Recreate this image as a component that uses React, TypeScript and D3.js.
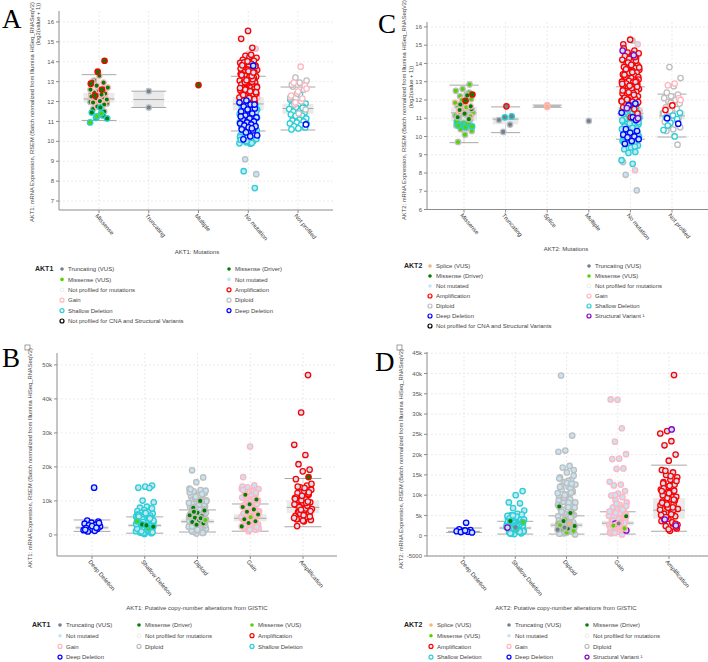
import * as d3 from 'd3';

// colours used by the cBioPortal-style plots
const MUT_FILL: Record<string, string> = {
  drv: '#008000', vus: '#53d400', trunc: '#708090', splice: '#f0b87b',
  notmut: '#c4e5f5', notprof: '#ffffff',
};
const CNA_STROKE: Record<string, string> = {
  amp: '#ff0000', gain: '#ffb6c1', dip: '#bebebe', shal: '#2aced4',
  deep: '#0000ff', sv: '#8b00c9', npcna: '#000000',
};
const LEGEND_LABEL: Record<string, string> = {
  splice: 'Splice (VUS)', trunc: 'Truncating (VUS)', drv: 'Missense (Driver)',
  vus: 'Missense (VUS)', notmut: 'Not mutated', notprof: 'Not profiled for mutations',
  amp: 'Amplification', gain: 'Gain', dip: 'Diploid', shal: 'Shallow Deletion',
  deep: 'Deep Deletion', sv: 'Structural Variant \u00b9',
  npcna: 'Not profiled for CNA and Structural Variants',
};

// ---------- A: AKT1 by mutation (log2) ----------
const A_CATS = ['Missense', 'Truncating', 'Multiple', 'No mutation', 'Not profiled'];
const A_TICKS = [7, 8, 9, 10, 11, 12, 13, 14, 15, 16];
const A_BOXES = [[11.05, 11.95, 12.13, 12.43, 13.35], [11.7, 11.7, 12.1, 12.52, 12.52], null,
  [10.52, 11.55, 11.88, 12.22, 13.27], [10.57, 11.38, 11.65, 11.88, 12.73]];
const A_MS_DRV_AMP = [14.05, 13.5, 12.9, 12.6, 12.3];
const A_MS_DRV_GAIN = [13.3, 13.0, 12.95, 12.8, 12.7, 12.55, 12.45, 12.4, 12.32, 12.25, 12.2, 12.15, 12.1, 12.02, 11.95, 11.85, 11.75, 12.6, 12.35];
const A_MS_DRV_DIP = [13.05, 12.65, 12.5, 12.38, 12.22, 12.05, 11.9, 11.8, 11.62, 11.5, 12.18, 11.98];
const A_MS_DRV_SHAL = [11.45, 11.3, 11.18, 11.15, 11.7];
const A_MS_VUS_SHAL = [11.25, 10.95, 11.4];
const A_TRUNC = [12.52, 11.7];
const A_MULTI = [12.83];
const A_NM_AMP = [15.55, 15.15, 14.7, 14.3, 14.2, 14.15, 14.1, 14.05, 14.0, 13.95, 13.9, 13.85, 13.8, 13.75, 13.72, 13.68, 13.62, 13.58, 13.55, 13.5, 13.45, 13.42, 13.38, 13.35, 13.3, 13.25, 13.22, 13.18, 13.15, 13.1, 13.05, 13.02, 12.98, 12.95, 12.9, 12.85, 12.82, 12.78, 12.75, 12.7, 12.65, 12.62, 12.58, 12.55, 12.5, 12.45, 12.42, 12.38, 12.35, 12.3, 12.25, 12.2, 12.15, 12.05, 11.95, 13.6, 13.4, 13.0, 12.6, 12.4, 14.25, 13.85, 13.2, 12.88, 12.68,
  14.35, 13.97, 13.77, 13.52, 13.33, 13.12, 12.93, 12.72, 12.52, 12.33, 12.12, 14.02, 13.66, 13.28, 12.97, 12.47, 12.18, 13.82, 13.46, 13.07];
const A_NM_GAIN = [14.65, 14.4, 13.9, 13.3, 12.8, 12.2, 11.8];
const A_NM_DIP = [14.1, 13.6, 13.0, 12.4, 11.9, 11.4, 9.1, 8.35, 10.5];
const A_NM_SHAL = [12.3, 12.2, 12.1, 12.0, 11.95, 11.9, 11.85, 11.8, 11.75, 11.7, 11.65, 11.6, 11.55, 11.5, 11.45, 11.4, 11.35, 11.3, 11.25, 11.2, 11.15, 11.1, 11.05, 11.0, 10.95, 10.9, 10.85, 10.8, 10.75, 10.7, 10.65, 10.6, 10.55, 10.5, 10.45, 10.4, 10.35, 10.3, 10.25, 10.2, 10.15, 10.1, 10.05, 10.0, 9.95, 9.9, 9.88, 8.5, 7.65, 11.72, 11.28, 10.88, 10.42, 10.12, 9.96, 11.58, 11.02, 10.68, 10.22, 12.25, 12.05, 11.62,
  12.15, 11.92, 11.68, 11.42, 11.18, 10.92, 10.72, 10.48, 10.28, 10.08, 9.92, 11.82, 11.48, 11.12, 10.78, 10.38, 10.02, 11.38, 10.58];
const A_NM_DEEP = [13.8, 12.05, 11.95, 11.85, 11.75, 11.65, 11.55, 11.5, 11.4, 11.3, 11.2, 11.15, 11.1, 11.0, 10.95, 10.9, 10.85, 10.8, 10.75, 10.7, 10.6, 10.55, 10.45, 10.3, 10.25, 10.1, 11.85, 11.6, 11.25, 10.65];
const A_NP_SHAL = [12.1, 12.0, 11.95, 11.9, 11.85, 11.8, 11.75, 11.7, 11.62, 11.55, 11.5, 11.45, 11.4, 11.35, 11.3, 11.22, 11.15, 11.1, 11.05, 11.0, 10.95, 10.9, 10.82, 10.75, 10.7, 10.65, 10.6, 11.68, 11.28, 10.88, 12.35];
const A_NP_DIP = [13.2, 13.05, 12.95, 12.75, 12.6, 12.4, 12.2, 12.0, 11.85, 11.6, 11.4, 12.85];
const A_NP_GAIN = [13.75, 12.95, 12.8, 12.5, 12.3, 12.15, 11.95, 12.65];
const A_NP_DEEP = [10.85];

// ---------- C: AKT2 by mutation (log2) ----------
const C_CATS = ['Missense', 'Truncating', 'Splice', 'Multiple', 'No mutation', 'Not profiled'];
const C_TICKS = [6, 7, 8, 9, 10, 11, 12, 13, 14, 15, 16];
const C_BOXES = [[9.66, 10.85, 11.29, 11.62, 12.81], [10.21, 10.67, 10.95, 11.07, 11.62], [11.6, 11.6, 11.66, 11.72, 11.72], null,
  [9.85, 10.95, 11.26, 11.6, 12.72], [9.97, 10.95, 11.13, 11.4, 12.32]];
const C_MS_VUS_DIP = [12.85, 12.6, 12.5, 12.3, 12.2, 12.05, 11.9, 11.7, 11.55, 11.45, 11.3, 11.2, 11.05, 10.9, 10.75, 10.6, 10.45, 10.4, 10.3, 10.1, 9.7, 12.4, 11.8, 11.15, 10.55];
const C_MS_VUS_SHAL = [10.8, 10.7, 10.65, 10.55, 10.5, 10.6];
const C_MS_VUS_GAIN = [12.0, 11.85, 11.6, 11.35, 11.1];
const C_MS_DRV_DIP = [12.25, 11.75, 11.5, 11.25, 11.05, 10.95];
const C_MS_DRV_AMP = [12.3, 11.95];
const C_MS_DRV_GAIN = [11.45, 11.65];
const C_TR_AMP = [11.65];
const C_TR_SHAL = [11.1, 11.05];
const C_TR_DIP = [10.9, 10.65, 10.25];
const C_SPLICE = [11.72, 11.62];
const C_MULTI = [10.85];
const C_NM_AMP = [15.3, 15.05, 14.7, 14.6, 14.55, 14.45, 14.4, 14.3, 14.25, 14.2, 14.1, 14.0, 13.9, 13.85, 13.8, 13.75, 13.7, 13.65, 13.6, 13.55, 13.5, 13.45, 13.4, 13.35, 13.3, 13.25, 13.2, 13.15, 13.1, 13.05, 13.0, 12.95, 12.9, 12.85, 12.8, 12.75, 12.7, 12.65, 12.6, 12.55, 12.5, 12.45, 12.4, 12.35, 12.3, 12.25, 12.2, 12.15, 12.1, 12.05, 12.0, 11.95, 11.9, 11.85, 11.8, 11.7, 11.6, 11.5, 13.62, 13.12, 12.62, 12.12, 14.15, 13.48, 12.88, 12.38, 11.78, 11.25, 11.05,
  14.82, 14.35, 14.05, 13.78, 13.52, 13.28, 13.02, 12.78, 12.52, 12.28, 12.02, 11.88, 13.92, 13.38, 12.98, 12.42, 11.92, 14.5, 13.68, 12.72];
const C_NM_GAIN = [15.05, 14.6, 13.9, 8.15, 12.5, 11.4];
const C_NM_DIP = [15.25, 7.9, 7.05, 14.35, 8.6];
const C_NM_SHAL = [11.7, 11.6, 11.5, 11.45, 11.4, 11.35, 11.3, 11.25, 11.2, 11.15, 11.1, 11.05, 11.0, 10.95, 10.9, 10.85, 10.8, 10.75, 10.7, 10.65, 10.6, 10.55, 10.5, 10.45, 10.4, 10.35, 10.3, 10.25, 10.2, 10.15, 10.1, 10.05, 10.0, 9.95, 9.9, 9.85, 9.8, 9.75, 9.7, 9.6, 9.5, 9.4, 9.3, 9.15, 9.1, 8.7, 8.5, 11.52, 11.02, 10.52, 10.02, 9.62, 11.28, 10.78, 10.28,
  11.62, 11.38, 11.12, 10.88, 10.62, 10.38, 10.12, 9.88, 9.68, 9.45, 11.48, 10.98, 10.48, 9.98, 11.22, 10.72];
const C_NM_DEEP = [11.8, 11.7, 11.3, 11.05, 10.4, 10.3, 10.2, 10.1, 10.0, 9.95, 9.85, 9.75, 9.6, 10.9];
const C_NM_SV = [14.7, 14.45, 11.55, 11.0];
const C_NP_DIP = [13.8, 13.2, 12.75, 12.4, 12.3, 12.2, 12.1, 12.0, 11.9, 11.8, 11.7, 11.6, 11.5, 11.4, 11.3, 11.2, 11.1, 11.0, 10.9, 10.8, 10.7, 10.6, 10.5, 10.4, 10.3, 9.55, 11.85, 11.25, 10.65];
const C_NP_GAIN = [12.9, 12.8, 12.1, 11.7, 11.5, 11.2, 10.85, 12.0];
const C_NP_SHAL = [11.3, 11.15, 11.05, 10.95, 10.75, 10.35, 10.0, 10.6];
const C_NP_DEEP = [11.0, 10.7];
const C_NP_AMP = [11.7, 11.45];

// ---------- B: AKT1 by GISTIC call (thousands) ----------
const CNA_CATS = ['Deep Deletion', 'Shallow Deletion', 'Diploid', 'Gain', 'Amplification'];
const B_TICKS = [0, 10, 20, 30, 40, 50];
const B_BOXES = [[1.05, 1.6, 2.1, 2.7, 4.4], [0.5, 2.3, 2.8, 3.3, 5.3], [0.85, 3.4, 3.9, 4.6, 7.35],
  [1.1, 4.0, 4.9, 6.1, 9.1], [2.4, 6.4, 8.1, 10.2, 16.6]];
const B_DEEP = [13.9, 4.2, 3.9, 3.6, 3.3, 3.0, 2.8, 2.5, 2.2, 2.0, 1.8, 1.6, 1.4, 1.2, 1.0, 3.5, 2.6, 1.5, 2.1];
const B_SHAL = [14.5, 14.2, 13.9, 13.8, 10.1, 9.6, 8.3, 8.0, 7.6, 7.3, 7.0, 6.8, 6.5, 6.3, 6.1, 5.9, 5.7, 5.5, 5.3, 5.1, 4.9, 4.7, 4.5, 4.3, 4.1, 3.9, 3.7, 3.5, 3.3, 3.1, 2.9, 2.7, 2.5, 2.3, 2.1, 1.9, 1.7, 1.5, 1.3, 1.1, 0.9, 0.7, 0.5, 0.3, 6.0, 5.2, 4.4, 3.6, 2.8, 2.0, 1.2, 0.6, 5.6, 4.0, 2.4,
  7.8, 6.6, 5.8, 5.0, 4.6, 4.2, 3.4, 3.0, 2.6, 2.2, 1.8, 1.4, 1.0, 0.8, 6.4, 5.4, 4.8, 3.8, 3.2, 1.6];
const B_SHAL_VUS = [4.0, 2.0];
const B_SHAL_DRV = [3.1, 2.4, 2.8];
const B_DIP = [19.0, 16.9, 15.5, 13.6, 13.2, 12.8, 12.3, 11.8, 11.4, 11.0, 10.6, 10.2, 9.8, 9.4, 9.0, 8.6, 8.2, 7.8, 7.4, 7.0, 6.6, 6.2, 5.8, 5.4, 5.0, 4.6, 4.2, 3.8, 3.4, 3.0, 2.6, 2.2, 1.8, 1.4, 1.0, 0.7, 0.4, 12.5, 11.1, 9.6, 8.4, 7.2, 6.0, 4.8, 3.6, 2.4, 1.2, 10.4, 8.8, 6.8, 5.2, 3.2, 1.6, 13.0, 11.6, 9.2, 7.6, 5.6, 4.0, 2.0, 0.9, 2.8, 4.4, 6.4,
  12.0, 10.8, 9.9, 9.0, 8.0, 7.0, 6.1, 5.3, 4.5, 3.7, 2.9, 2.1, 1.3, 0.6, 11.2, 9.4, 7.4, 5.5, 3.5, 1.5, 13.4, 10.0, 8.2, 6.5, 4.7, 2.5];
const B_DIP_DRV = [10.0, 8.0, 7.2, 6.5, 6.0, 5.5, 5.0, 4.6, 4.2, 3.8, 3.4, 3.0, 5.8, 4.9, 6.8];
const B_DIP_VUS = [4.4];
const B_GAIN = [26.0, 17.0, 14.6, 14.0, 13.5, 13.0, 12.5, 12.0, 11.5, 11.0, 10.5, 10.0, 9.5, 9.0, 8.5, 8.0, 7.5, 7.0, 6.5, 6.0, 5.5, 5.0, 4.5, 4.0, 3.5, 3.0, 2.5, 2.0, 1.5, 1.1, 13.6, 12.2, 10.8, 9.2, 7.8, 6.2, 4.8, 3.2, 1.8, 11.8, 8.8, 5.8, 2.8,
  14.2, 12.8, 11.3, 10.2, 9.8, 8.7, 7.2, 6.7, 5.2, 4.3, 3.7, 2.3, 1.6, 13.2, 10.6, 8.2, 6.4, 4.2, 2.6, 12.4];
const B_GAIN_DRV = [11.8, 10.4, 9.0, 8.2, 7.5, 6.8, 6.0, 5.5, 4.6, 4.0, 3.5, 2.5];
const B_GAIN_VUS = [5.2];
const B_AMP = [47.0, 36.0, 26.5, 23.5, 20.8, 19.2, 18.7, 16.4, 14.5, 14.0, 13.3, 12.8, 12.3, 11.8, 11.3, 10.8, 10.4, 10.0, 9.6, 9.2, 8.8, 8.4, 8.0, 7.6, 7.2, 6.8, 6.4, 6.0, 5.6, 5.2, 4.8, 4.4, 4.0, 2.6, 12.0, 10.2, 9.0, 7.8, 6.6, 5.4, 4.2, 11.0, 8.6, 6.2, 15.0, 13.8,
  14.2, 12.5, 11.5, 10.6, 9.4, 8.2, 7.0, 5.8, 4.6, 9.8, 7.4, 5.0];
const B_AMP_DRV = [17.0];

// ---------- D: AKT2 by GISTIC call (thousands) ----------
const D_TICKS = [-5, 0, 5, 10, 15, 20, 25, 30, 35, 40, 45];
const D_BOXES = [[0.8, 0.9, 1.05, 1.3, 1.9], [0.4, 1.5, 1.9, 2.3, 3.55], [0.4, 2.0, 2.6, 3.2, 4.9],
  [0.4, 2.5, 3.1, 3.7, 5.9], [1.1, 4.2, 6.3, 9.3, 17.4]];
const D_DEEP = [3.2, 1.6, 1.4, 1.2, 1.1, 1.0, 0.9, 0.8, 1.3];
const D_SHAL = [11.0, 10.0, 8.2, 8.0, 6.8, 6.2, 5.4, 5.0, 4.8, 4.6, 4.4, 4.2, 4.0, 3.8, 3.6, 3.4, 3.2, 3.0, 2.8, 2.6, 2.4, 2.2, 2.0, 1.8, 1.6, 1.4, 1.2, 1.0, 0.8, 0.6, 0.4, 4.9, 4.1, 3.3, 2.5, 1.7, 0.9, 3.7, 2.9, 2.1, 1.3, 0.5, 5.2, 4.5, 3.5, 2.7, 1.9, 1.1,
  4.7, 4.3, 3.9, 3.1, 2.3, 1.5, 0.7, 3.4, 2.6, 1.8, 1.0, 5.0, 4.0, 2.4, 0.6];
const D_SHAL_VUS = [3.3, 1.6];
const D_SHAL_DRV = [3.6];
const D_SHAL_SV = [2.0];
const D_SHAL_TRUNC = [2.1];
const D_DIP = [39.5, 24.7, 21.0, 20.7, 17.2, 16.8, 16.2, 15.6, 14.4, 13.8, 13.2, 12.6, 12.0, 11.4, 10.8, 10.2, 9.6, 9.0, 8.4, 7.8, 7.2, 6.6, 6.0, 5.4, 4.8, 4.2, 3.6, 3.0, 2.4, 1.8, 1.2, 0.6, 0.3, 13.5, 12.3, 11.1, 9.9, 8.7, 7.5, 6.3, 5.1, 3.9, 2.7, 1.5, 0.9, 10.5, 8.1, 5.7, 3.3, 2.1, 14.1, 11.7, 9.3, 6.9, 4.5, 2.2, 1.0, 4.0, 2.6, 1.6, 3.2,
  14.8, 13.0, 12.0, 10.6, 9.4, 8.2, 7.0, 5.9, 5.0, 4.3, 3.7, 3.1, 2.5, 1.9, 1.3, 0.7, 12.8, 10.0, 7.6, 5.3, 3.5, 2.3, 1.4, 0.5, 4.6, 2.8];
const D_DIP_VUS = [5.8, 4.0, 3.0, 2.2, 1.6, 1.2, 0.8, 2.6];
const D_DIP_DRV = [7.2, 5.6, 3.6, 2.4, 1.8];
const D_DIP_TRUNC = [2.0, 1.5];
const D_DIP_SPLICE = [2.9];
const D_GAIN = [33.5, 33.6, 26.5, 23.2, 20.1, 19.0, 18.9, 16.6, 16.5, 13.3, 12.6, 12.4, 11.0, 10.4, 9.9, 9.5, 8.8, 8.2, 7.6, 7.0, 6.6, 6.2, 5.8, 5.4, 5.0, 4.6, 4.2, 3.8, 3.4, 3.0, 2.6, 2.2, 1.8, 1.4, 1.0, 0.6, 0.3, 10.0, 7.3, 5.6, 4.4, 3.2, 2.0, 0.8, 6.8, 4.8, 3.6, 2.4, 1.2,
  6.4, 5.6, 4.9, 4.3, 3.7, 3.1, 2.5, 1.9, 1.3, 0.7, 5.2, 4.0, 2.8, 1.6, 7.9, 6.0, 3.3, 2.1];
const D_GAIN_SV = [3.0, 1.3];
const D_GAIN_DRV = [4.8, 3.2];
const D_GAIN_VUS = [2.5, 1.8];
const D_GAIN_TRUNC = [3.0];
const D_AMP = [39.6, 25.8, 25.2, 23.3, 22.3, 20.0, 18.5, 16.2, 15.6, 15.0, 14.4, 13.8, 13.2, 12.6, 12.0, 11.4, 10.8, 10.2, 9.6, 9.0, 8.4, 7.8, 7.2, 6.6, 6.0, 5.4, 4.8, 4.2, 3.6, 3.0, 2.4, 1.8, 1.2, 12.9, 11.1, 9.3, 7.5, 5.7, 3.9, 2.1, 10.5, 8.1, 6.3, 4.5, 2.7, 14.7, 11.7, 8.7, 6.9, 5.1, 3.3,
  16.0, 13.5, 12.3, 10.0, 8.9, 7.7, 6.4, 5.3, 4.1, 2.9, 1.6, 11.0, 7.0, 4.6];
const D_AMP_SV = [26.2, 4.0, 2.5];

type Group = [number, string, string, number[]];

const A_GROUPS: Group[] = [
  [3, 'notmut', 'dip', A_NM_DIP], [3, 'notmut', 'gain', A_NM_GAIN], [3, 'notmut', 'shal', A_NM_SHAL],
  [3, 'notmut', 'amp', A_NM_AMP], [3, 'notmut', 'deep', A_NM_DEEP],
  [4, 'notprof', 'shal', A_NP_SHAL], [4, 'notprof', 'dip', A_NP_DIP], [4, 'notprof', 'gain', A_NP_GAIN], [4, 'notprof', 'deep', A_NP_DEEP],
  [0, 'drv', 'dip', A_MS_DRV_DIP], [0, 'drv', 'gain', A_MS_DRV_GAIN], [0, 'drv', 'amp', A_MS_DRV_AMP],
  [0, 'drv', 'shal', A_MS_DRV_SHAL], [0, 'vus', 'shal', A_MS_VUS_SHAL],
  [1, 'trunc', 'dip', A_TRUNC], [2, 'drv', 'amp', A_MULTI],
];
const C_GROUPS: Group[] = [
  [4, 'notmut', 'dip', C_NM_DIP], [4, 'notmut', 'gain', C_NM_GAIN], [4, 'notmut', 'shal', C_NM_SHAL],
  [4, 'notmut', 'amp', C_NM_AMP], [4, 'notmut', 'deep', C_NM_DEEP], [4, 'notmut', 'sv', C_NM_SV],
  [5, 'notprof', 'dip', C_NP_DIP], [5, 'notprof', 'gain', C_NP_GAIN], [5, 'notprof', 'shal', C_NP_SHAL],
  [5, 'notprof', 'deep', C_NP_DEEP], [5, 'notprof', 'amp', C_NP_AMP],
  [0, 'vus', 'dip', C_MS_VUS_DIP], [0, 'vus', 'shal', C_MS_VUS_SHAL], [0, 'vus', 'gain', C_MS_VUS_GAIN],
  [0, 'drv', 'dip', C_MS_DRV_DIP], [0, 'drv', 'amp', C_MS_DRV_AMP], [0, 'drv', 'gain', C_MS_DRV_GAIN],
  [1, 'trunc', 'amp', C_TR_AMP], [1, 'trunc', 'shal', C_TR_SHAL], [1, 'trunc', 'dip', C_TR_DIP],
  [2, 'splice', 'gain', C_SPLICE], [3, 'trunc', 'dip', C_MULTI],
];
const B_GROUPS: Group[] = [
  [0, 'notmut', 'deep', B_DEEP], [1, 'notmut', 'shal', B_SHAL], [2, 'notmut', 'dip', B_DIP],
  [3, 'notmut', 'gain', B_GAIN], [4, 'notmut', 'amp', B_AMP],
  [1, 'vus', 'shal', B_SHAL_VUS], [1, 'drv', 'shal', B_SHAL_DRV], [2, 'drv', 'dip', B_DIP_DRV], [2, 'vus', 'dip', B_DIP_VUS],
  [3, 'drv', 'gain', B_GAIN_DRV], [3, 'vus', 'gain', B_GAIN_VUS], [4, 'drv', 'amp', B_AMP_DRV],
];
const D_GROUPS: Group[] = [
  [0, 'notmut', 'deep', D_DEEP], [1, 'notmut', 'shal', D_SHAL], [2, 'notmut', 'dip', D_DIP],
  [3, 'notmut', 'gain', D_GAIN], [4, 'notmut', 'amp', D_AMP],
  [1, 'notmut', 'sv', D_SHAL_SV], [3, 'notmut', 'sv', D_GAIN_SV], [4, 'notmut', 'sv', D_AMP_SV],
  [1, 'vus', 'shal', D_SHAL_VUS], [1, 'drv', 'shal', D_SHAL_DRV], [1, 'trunc', 'shal', D_SHAL_TRUNC],
  [2, 'vus', 'dip', D_DIP_VUS], [2, 'drv', 'dip', D_DIP_DRV], [2, 'trunc', 'dip', D_DIP_TRUNC], [2, 'splice', 'dip', D_DIP_SPLICE],
  [3, 'drv', 'gain', D_GAIN_DRV], [3, 'vus', 'gain', D_GAIN_VUS], [3, 'trunc', 'gain', D_GAIN_TRUNC],
];

const A_LEGEND = ['trunc', 'drv', 'vus', 'notmut', 'notprof', 'amp', 'gain', 'dip', 'shal', 'deep', 'npcna'];
const C_LEGEND = ['splice', 'trunc', 'drv', 'vus', 'notmut', 'notprof', 'amp', 'gain', 'dip', 'shal', 'deep', 'sv', 'npcna'];
const B_LEGEND = ['trunc', 'drv', 'vus', 'notmut', 'notprof', 'amp', 'gain', 'dip', 'shal', 'deep'];
const D_LEGEND = ['splice', 'trunc', 'drv', 'vus', 'notmut', 'notprof', 'amp', 'gain', 'dip', 'shal', 'deep', 'sv'];

const FONT = '"Liberation Sans", Arial, sans-serif';
const kFmt = (d: number) => (d === 0 ? '0' : d < 0 ? `${d * 1000}` : `${d}k`);

interface PanelSpec {
  letter: string; letterPos: [number, number];
  cats: string[]; xRange: [number, number];
  left: number; right: number; top: number; bottom: number;
  yDomain: [number, number]; ticks: number[]; tickFmt: (d: number) => string;
  boxes: (number[] | null)[]; groups: Group[];
  yTitle: { t: string; x: number; y: number }[];
  xTitle: string; xTitlePos: [number, number];
  gene: string; legend: string[]; legendX: number; legendCols: number[]; legendY: number; legendDy: number;
}

const PANELS: PanelSpec[] = [
  {
    letter: 'A', letterPos: [2, 28], cats: A_CATS, xRange: [99, 298],
    left: 59, right: 333, top: 11, bottom: 210, yDomain: [6.55, 16.55], ticks: A_TICKS, tickFmt: (d) => `${d}`,
    boxes: A_BOXES, groups: A_GROUPS,
    yTitle: [{ t: 'AKT1: mRNA Expression, RSEM (Batch normalized from Illumina HiSeq_RNASeqV2)', x: 32, y: 112 },
      { t: '(log2(value + 1))', x: 37.5, y: 24 }],
    xTitle: 'AKT1: Mutations', xTitlePos: [197, 254],
    gene: 'AKT1', legend: A_LEGEND, legendX: 35, legendCols: [62, 229], legendY: 269, legendDy: 10.4,
  },
  {
    letter: 'C', letterPos: [378, 33], cats: C_CATS, xRange: [464, 672],
    left: 427, right: 708, top: 22, bottom: 209.5, yDomain: [6, 16.27], ticks: C_TICKS, tickFmt: (d) => `${d}`,
    boxes: C_BOXES, groups: C_GROUPS,
    yTitle: [{ t: 'AKT2: mRNA Expression, RSEM (Batch normalized from Illumina HiSeq_RNASeqV2)', x: 404, y: 110 },
      { t: '(log2(value + 1))', x: 410.5, y: 87 }],
    xTitle: 'AKT2: Mutations', xTitlePos: [566, 251],
    gene: 'AKT2', legend: C_LEGEND, legendX: 404, legendCols: [430, 589], legendY: 266, legendDy: 10,
  },
  {
    letter: 'B', letterPos: [2, 367], cats: CNA_CATS, xRange: [92, 303],
    left: 57, right: 337, top: 353, bottom: 556, yDomain: [-6.2, 53.5], ticks: B_TICKS, tickFmt: kFmt,
    boxes: B_BOXES, groups: B_GROUPS,
    yTitle: [{ t: 'AKT1: mRNA Expression, RSEM (Batch normalized from Illumina HiSeq_RNASeqV2)', x: 30, y: 458 }],
    xTitle: 'AKT1: Putative copy-number alterations from GISTIC', xTitlePos: [197, 610],
    gene: 'AKT1', legend: B_LEGEND, legendX: 32, legendCols: [60, 139, 252], legendY: 625, legendDy: 10.7,
  },
  {
    letter: 'D', letterPos: [375, 371], cats: CNA_CATS, xRange: [464, 669],
    left: 427, right: 708, top: 352, bottom: 556, yDomain: [-5, 45.3], ticks: D_TICKS, tickFmt: kFmt,
    boxes: D_BOXES, groups: D_GROUPS,
    yTitle: [{ t: 'AKT2: mRNA Expression, RSEM (Batch normalized from Illumina HiSeq_RNASeqV2)', x: 401, y: 459 }],
    xTitle: 'AKT2: Putative copy-number alterations from GISTIC', xTitlePos: [566, 610],
    gene: 'AKT2', legend: D_LEGEND, legendX: 404, legendCols: [431, 509, 587], legendY: 625, legendDy: 10.7,
  },
];

// deterministic golden-ratio jitter, like the strip plots
const jitter = (i: number, seed: number) => (((i + 1) * 0.6180339887 + seed) % 1) - 0.5;

function LegendMarker({ k, x, y }: { k: string; x: number; y: number }) {
  if (k in MUT_FILL) {
    return <circle cx={x} cy={y} r={1.8} fill={MUT_FILL[k]} stroke={k === 'notprof' ? '#dddddd' : 'none'} strokeWidth={0.6} />;
  }
  return <circle cx={x} cy={y} r={2} fill="#fff" stroke={CNA_STROKE[k]} strokeWidth={1.2} />;
}

function Panel({ p }: { p: PanelSpec }) {
  const x = d3.scalePoint<string>().domain(p.cats).range(p.xRange);
  const y = d3.scaleLinear().domain(p.yDomain).range([p.bottom, p.top]);
  const step = x.step();
  const bw = step * 0.62;
  const ww = step * 0.7;
  const nCols = p.legendCols.length;
  // categories with only one or two samples are not jittered
  const counts = p.cats.map((_, ci) => d3.sum(p.groups.filter((g) => g[0] === ci), (g) => g[3].length));

  return (
    <g fontFamily={FONT}>
      <text x={p.letterPos[0]} y={p.letterPos[1]} fontFamily='"Liberation Serif", "Times New Roman", serif' fontSize={27} fill="#000">
        {p.letter}
      </text>

      {/* grid */}
      {p.ticks.map((t) => (
        <line key={`h${t}`} x1={p.left} x2={p.right} y1={y(t)} y2={y(t)} stroke="#e6e6e6" strokeDasharray="2,2" strokeWidth={0.8} />
      ))}
      {p.cats.map((c) => (
        <line key={`v${c}`} x1={x(c)} x2={x(c)} y1={p.top} y2={p.bottom} stroke="#e6e6e6" strokeDasharray="2,2" strokeWidth={0.8} />
      ))}

      {/* boxes */}
      {p.boxes.map((b, i) => {
        if (!b) return null;
        const cx = x(p.cats[i]) as number;
        const [lo, q1, med, q3, hi] = b;
        return (
          <g key={`b${i}`}>
            <line x1={cx} x2={cx} y1={y(hi)} y2={y(q3)} stroke="#cccccc" strokeWidth={0.8} />
            <line x1={cx} x2={cx} y1={y(q1)} y2={y(lo)} stroke="#cccccc" strokeWidth={0.8} />
            <rect x={cx - bw / 2} y={y(q3)} width={bw} height={Math.max(1, y(q1) - y(q3))} fill="#e3e3e3" opacity={0.75} />
            <line x1={cx - bw / 2} x2={cx + bw / 2} y1={y(med)} y2={y(med)} stroke="#a8a8a8" strokeWidth={1} />
            <line x1={cx - ww / 2} x2={cx + ww / 2} y1={y(hi)} y2={y(hi)} stroke="#a8a8a8" strokeWidth={1} />
            <line x1={cx - ww / 2} x2={cx + ww / 2} y1={y(lo)} y2={y(lo)} stroke="#a8a8a8" strokeWidth={1} />
          </g>
        );
      })}

      {/* points */}
      {p.groups.map(([ci, fill, stroke, vals], gi) => {
        const cx = x(p.cats[ci]) as number;
        return (
          <g key={`g${gi}`}>
            {vals.map((v, i) => (
              <circle
                key={i}
                cx={counts[ci] <= 2 ? cx : cx + jitter(i, gi * 0.29) * 18}
                cy={y(v)}
                r={2.7}
                fill={MUT_FILL[fill]}
                stroke={CNA_STROKE[stroke]}
                strokeWidth={1.3}
              />
            ))}
          </g>
        );
      })}

      {/* axes */}
      <line x1={p.left} x2={p.left} y1={p.top} y2={p.bottom} stroke="#8c8c8c" strokeWidth={1} />
      <line x1={p.left} x2={p.right} y1={p.bottom} y2={p.bottom} stroke="#8c8c8c" strokeWidth={1} />
      {p.ticks.map((t) => (
        <g key={`t${t}`}>
          <line x1={p.left - 3} x2={p.left} y1={y(t)} y2={y(t)} stroke="#8c8c8c" />
          <text x={p.left - 5} y={y(t)} dy="0.35em" textAnchor="end" fontSize={6} fill="#555">{p.tickFmt(t)}</text>
        </g>
      ))}
      {p.cats.map((c) => (
        <g key={`x${c}`}>
          <line x1={x(c)} x2={x(c)} y1={p.bottom} y2={p.bottom + 3} stroke="#8c8c8c" />
          <text transform={`translate(${(x(c) as number) - 4},${p.bottom + 6}) rotate(50)`} fontSize={6} fill="#333">{c}</text>
        </g>
      ))}

      {p.yTitle.map((l, i) => (
        <text key={`yt${i}`} transform={`translate(${l.x},${l.y}) rotate(-90)`} textAnchor="middle" dy="0.35em" fontSize={5.8} fill="#444">
          {l.t}
        </text>
      ))}
      <text x={p.xTitlePos[0]} y={p.xTitlePos[1]} textAnchor="middle" fontSize={6} fill="#444">{p.xTitle}</text>

      {/* legend */}
      <text x={p.legendX} y={p.legendY} dy="0.35em" fontSize={7} fontWeight="bold" fill="#222">{p.gene}</text>
      {p.legend.map((k, i) => {
        const lx = p.legendCols[i % nCols];
        const ly = p.legendY + Math.floor(i / nCols) * p.legendDy;
        return (
          <g key={`l${k}`}>
            <LegendMarker k={k} x={lx} y={ly} />
            <text x={lx + 6} y={ly} dy="0.35em" fontSize={6} fill="#444">{LEGEND_LABEL[k]}</text>
          </g>
        );
      })}
    </g>
  );
}

export default function App() {
  return (
    <svg width={708} height={662} style={{ position: 'absolute', left: 0, top: 0, background: '#fff' }}>
      <rect width={708} height={662} fill="#fff" />
      {PANELS.map((p) => (
        <Panel key={p.letter} p={p} />
      ))}
      <rect x={25} y={345} width={5} height={5} fill="none" stroke="#777" strokeWidth={0.7} />
      <rect x={397} y={345} width={5} height={5} fill="none" stroke="#777" strokeWidth={0.7} />
    </svg>
  );
}
